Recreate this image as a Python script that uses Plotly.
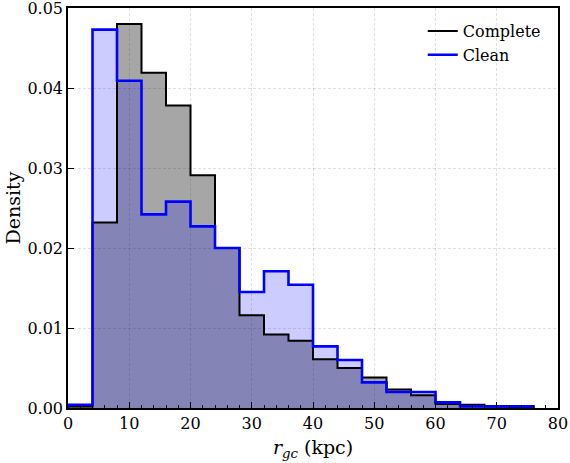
import plotly.graph_objects as go

# histogram bin edges (kpc) and normalised densities
bin_edges = [0, 4, 8, 12, 16, 20, 24, 28, 32, 36, 40,
             44, 48, 52, 56, 60, 64, 68, 72, 76]
complete_density = [0.0002, 0.0232, 0.0480, 0.0419, 0.0378, 0.0291, 0.0200,
                    0.0116, 0.0092, 0.0084, 0.0061, 0.0050, 0.0038, 0.0023,
                    0.0016, 0.0005, 0.0004, 0.0002, 0.0001]
clean_density = [0.0004, 0.0473, 0.0409, 0.0242, 0.0258, 0.0227, 0.0200,
                 0.0145, 0.0171, 0.0154, 0.0077, 0.0060, 0.0032, 0.0020,
                 0.0020, 0.0007, 0.0002, 0.0002, 0.0002]
x_ticks = [0, 10, 20, 30, 40, 50, 60, 70, 80]
y_ticks = [0.00, 0.01, 0.02, 0.03, 0.04, 0.05]

FONT = "DejaVu Serif"


def step_xy(edges, values):
    '''
    Turns bin edges and heights into an hv step outline that
    starts and ends on zero, like a matplotlib step histogram.
    '''
    xs = [edges[0]] + list(edges)
    ys = [0] + list(values) + [0]
    return xs, ys


cx, cy = step_xy(bin_edges, complete_density)
bx, by = step_xy(bin_edges, clean_density)

fig = go.Figure()

# filled areas first
fig.add_trace(go.Scatter(x=cx, y=cy, mode="lines", line_shape="hv",
                         line=dict(width=0), fill="tozeroy",
                         fillcolor="rgba(0,0,0,0.35)",
                         showlegend=False, hoverinfo="skip"))
fig.add_trace(go.Scatter(x=bx, y=by, mode="lines", line_shape="hv",
                         line=dict(width=0), fill="tozeroy",
                         fillcolor="rgba(0,0,255,0.2)",
                         showlegend=False, hoverinfo="skip"))
# outlines on top
fig.add_trace(go.Scatter(x=cx, y=cy, mode="lines", line_shape="hv",
                         line=dict(color="black", width=2),
                         name="Complete"))
fig.add_trace(go.Scatter(x=bx, y=by, mode="lines", line_shape="hv",
                         line=dict(color="blue", width=2.6),
                         name="Clean"))

axis_common = dict(showline=True, linecolor="black", linewidth=1.5,
                   mirror=True, ticks="inside", tickcolor="black",
                   showgrid=True, gridcolor="rgba(0,0,0,0.12)",
                   griddash="3px,2px", gridwidth=0.8, zeroline=False,
                   automargin=False, ticklabeloverflow="allow",
                   tickfont=dict(family=FONT, size=16, color="black"))

fig.update_xaxes(range=[0, 80], tickvals=x_ticks, ticklen=6, tickwidth=1.2,
                 minor=dict(dtick=2, ticks="inside", ticklen=3,
                            tickcolor="black", showgrid=False),
                 title=dict(text="<i>r</i><sub><i>gc</i></sub> (kpc)",
                            font=dict(family=FONT, size=19, color="black"),
                            standoff=9),
                 **axis_common)
fig.update_yaxes(range=[0, 0.05], tickvals=y_ticks, tickformat=".2f",
                 ticklen=6, tickwidth=1.2,
                 title=dict(text="Density",
                            font=dict(family=FONT, size=19, color="black"),
                            standoff=2),
                 **axis_common)

fig.update_layout(width=570, height=463,
                  margin=dict(l=68, r=12, t=8, b=55),
                  paper_bgcolor="white", plot_bgcolor="white",
                  font=dict(family=FONT, color="black"),
                  legend=dict(x=0.975, y=0.985, xanchor="right",
                              yanchor="top", bgcolor="rgba(0,0,0,0)",
                              font=dict(family=FONT, size=16, color="black"),
                              itemwidth=30, tracegroupgap=0))

# drop the browser's default body margin so the figure sits at the corner
fig.write_html("out.html", config={"displayModeBar": False},
               post_script="document.body.style.margin = '0';")
